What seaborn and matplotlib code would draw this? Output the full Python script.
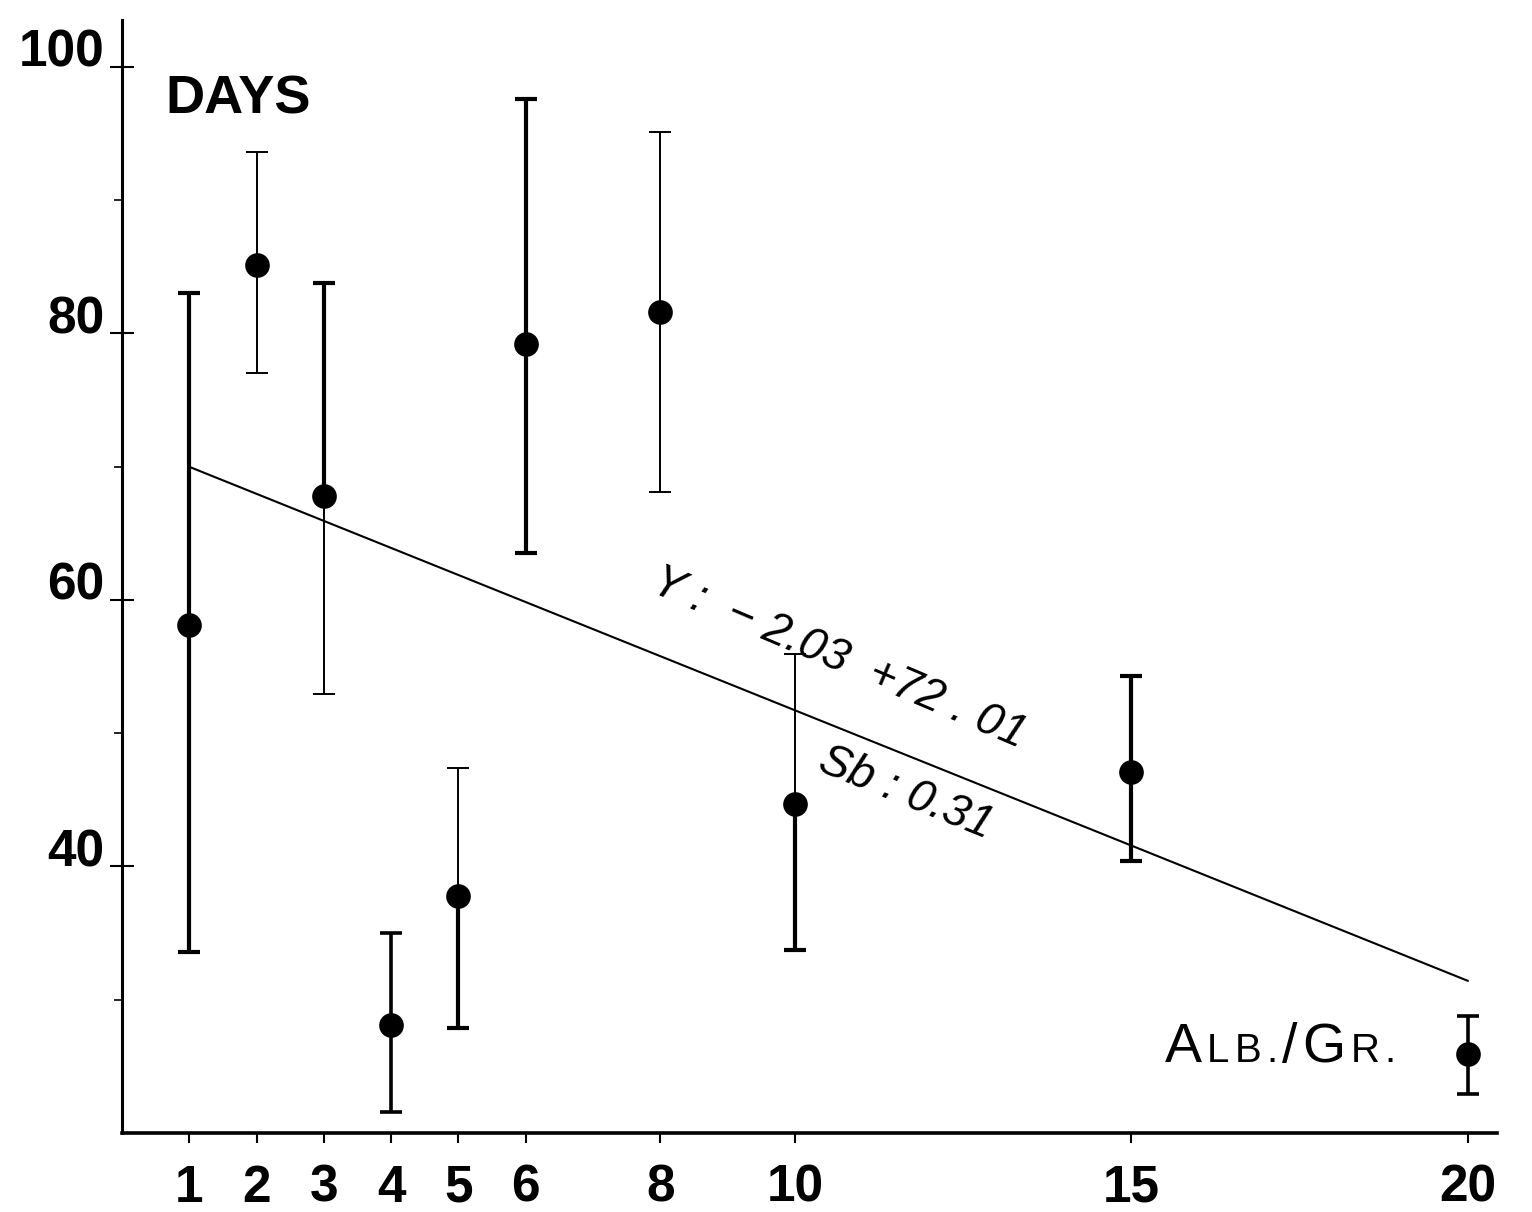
import matplotlib
matplotlib.use("Agg")
import matplotlib.pyplot as plt
import seaborn as sns
import pandas as pd
from matplotlib.ticker import FixedLocator

# values
ratio = [1, 2, 3, 4, 5, 6, 8, 10, 15, 20]
days_mean = [58.1, 85.1, 67.8, 28.1, 37.8, 79.2, 81.6, 44.7, 47.1, 25.9]
days_hi = [83.0, 93.6, 83.8, 35.0, 47.4, 97.6, 95.1, 55.9, 54.3, 28.8]
days_lo = [33.6, 77.0, 52.9, 21.6, 27.9, 63.5, 68.1, 33.7, 40.4, 22.9]
slope = -2.03
intercept = 72.01
sb = 0.31
y_major = [40, 60, 80, 100]
y_minor = [30, 50, 70, 90]

# bar thickness (the scan has thick and thin strokes)
up_w = [3.0, 1.4, 3.0, 2.6, 1.4, 3.0, 1.4, 1.4, 3.0, 2.6]
lo_w = [3.0, 1.4, 1.4, 2.6, 3.0, 3.0, 1.4, 3.0, 3.0, 2.6]

sns.set_style("ticks")
plt.rcParams['font.family'] = ['Liberation Sans', 'DejaVu Sans']
for k in ["text.color", "axes.labelcolor", "xtick.color", "ytick.color", "axes.edgecolor"]:
    plt.rcParams[k] = "black"

fig = plt.figure(figsize=(15.32, 12.12), dpi=100)
ax = fig.add_axes([0.0796, 0.0652, 0.8975, 0.9183])

df = pd.DataFrame({"ratio": ratio, "days": days_mean})

# error bars
for i in range(len(ratio)):
    x = ratio[i]
    ax.plot([x, x], [days_mean[i], days_hi[i]], color="black", lw=up_w[i], solid_capstyle="butt", zorder=2)
    ax.plot([x, x], [days_lo[i], days_mean[i]], color="black", lw=lo_w[i], solid_capstyle="butt", zorder=2)
    ax.plot([x], [days_hi[i]], marker="_", ms=16, mew=up_w[i], color="black", zorder=2)
    ax.plot([x], [days_lo[i]], marker="_", ms=16, mew=lo_w[i], color="black", zorder=2)

sns.scatterplot(data=df, x="ratio", y="days", s=270, color="black", edgecolor="black", ax=ax, zorder=3)

# regression line
fit = pd.DataFrame({"ratio": [ratio[0], ratio[-1]]})
fit["days"] = slope * fit["ratio"] + intercept
sns.lineplot(data=fit, x="ratio", y="days", color="black", lw=1.5, ax=ax, zorder=2)

ax.set_xlim(0, 20.43)
ax.set_ylim(20, 103.5)
ax.set_xlabel("")
ax.set_ylabel("")

sns.despine(ax=ax)
ax.spines["left"].set_linewidth(2.2)
ax.spines["bottom"].set_linewidth(2.6)

tick_font = dict(family=['DejaVu Sans Condensed', 'Liberation Sans Narrow', 'Liberation Sans'],
                 weight='bold', size=37, stretch='condensed')
ax.set_xticks(ratio)
ax.set_xticklabels([str(r) for r in ratio], fontdict=tick_font)
ax.set_yticks(y_major)
ax.set_yticklabels([str(v) for v in y_major], fontdict=tick_font)
ax.yaxis.set_minor_locator(FixedLocator(y_minor))
ax.tick_params(axis="x", direction="out", length=7, width=1.5, pad=15)
ax.tick_params(axis="y", which="major", direction="inout", length=17, width=1.5, pad=4)
ax.tick_params(axis="y", which="minor", direction="out", length=6, width=1.2)
for lab in ax.get_yticklabels():
    lab.set_verticalalignment("baseline")

ax.text(0.64, 97.5, "DAYS", fontsize=39, fontweight="bold", va="center", ha="left")

ax.text(10.65, 55.6, "Y :  − 2.03  +72 . 01", fontsize=33, style="italic",
        rotation=-23, rotation_mode="anchor", ha="center", va="center")
ax.text(11.65, 45.5, f"Sb : {sb}", fontsize=33, style="italic",
        rotation=-22, rotation_mode="anchor", ha="center", va="center")

# small-caps label drawn piece by piece
fig.canvas.draw()
renderer = fig.canvas.get_renderer()
pieces = [("A", 40), ("L", 29), ("B", 29), (".", 29), ("/", 40), ("G", 40), ("R", 29), (".", 29)]
x0 = ax.transData.transform((15.5, 25.3))
xpix = x0[0]
for txt, size in pieces:
    t = fig.text(xpix / fig.bbox.width, x0[1] / fig.bbox.height, txt, fontsize=size,
                 ha="left", va="baseline")
    bb = t.get_window_extent(renderer)
    xpix = bb.x1 + 5

fig.savefig("out.png", dpi=100)
